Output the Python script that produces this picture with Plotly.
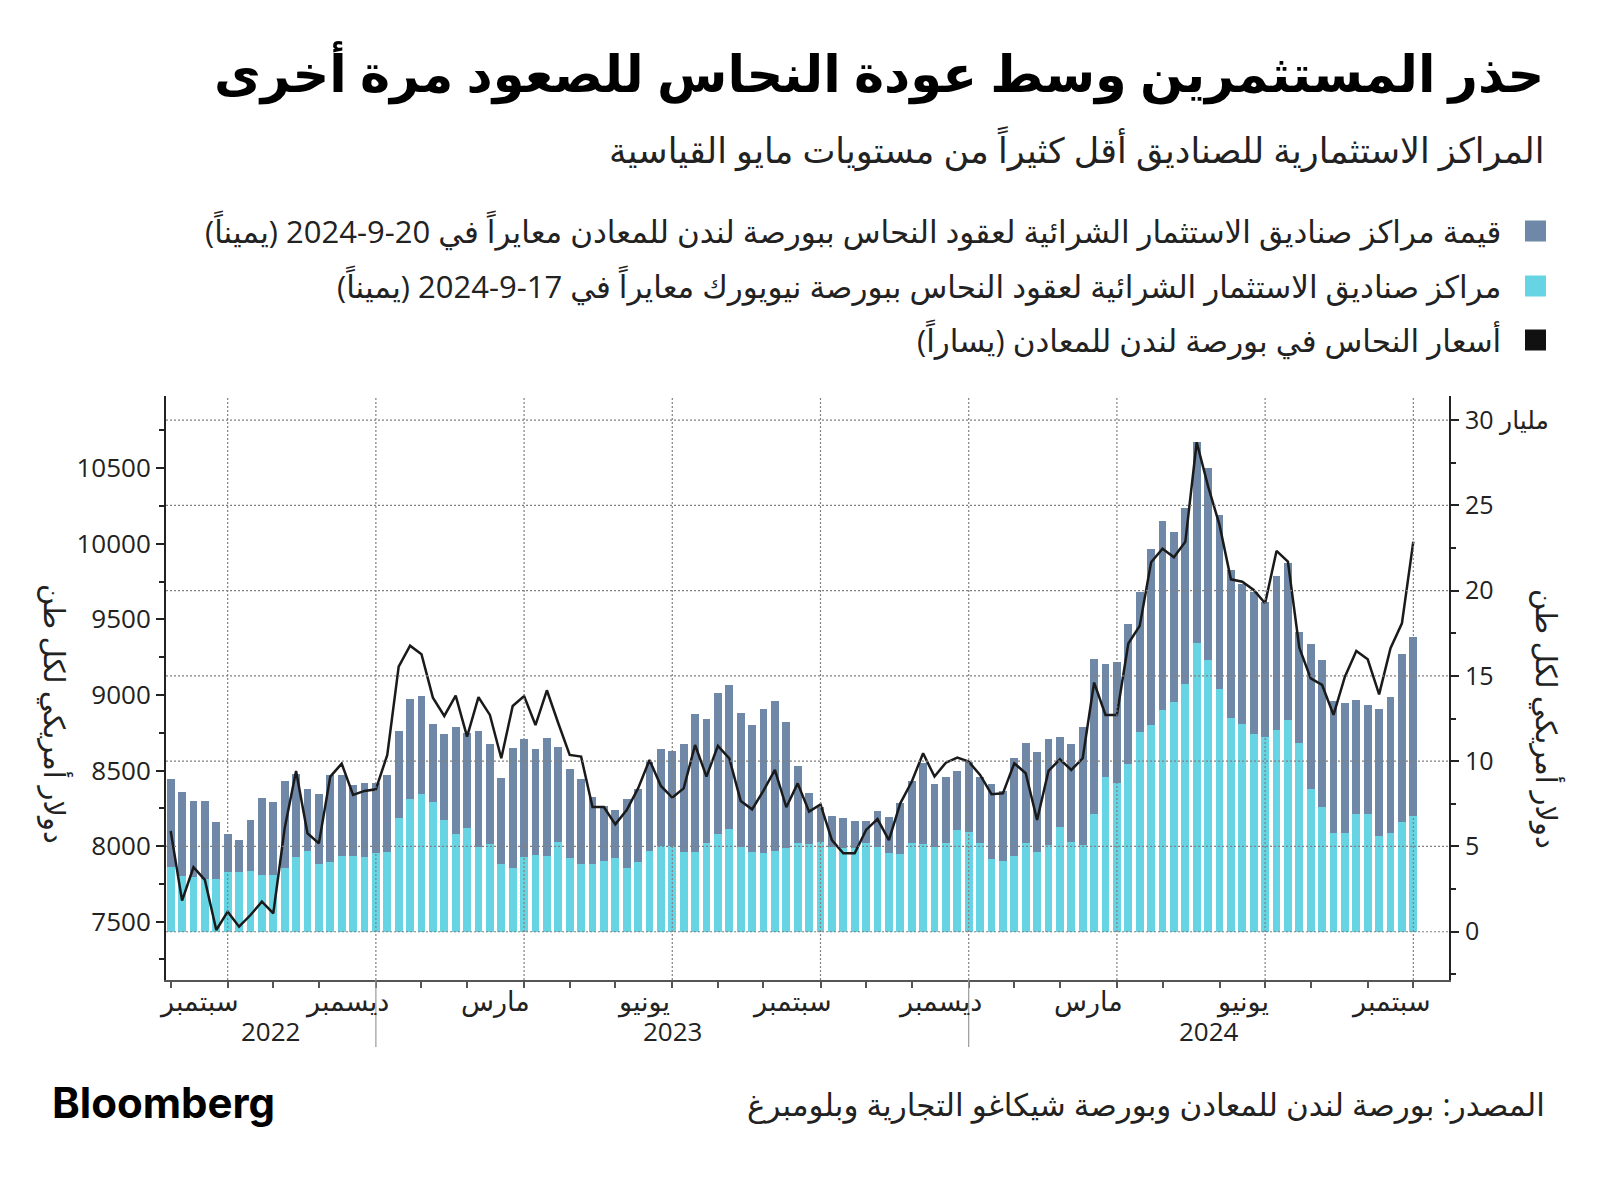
import plotly.graph_objects as go
import pandas as pd

# ---------------- data ----------------
weeks = pd.date_range("2022-08-26", periods=110, freq="7D").strftime("%Y-%m-%d").tolist()

# value of LME fund long positions (USD bn, right axis)
lme_value = [8.95, 8.19, 7.68, 7.68, 6.41, 5.71, 5.39, 6.53, 7.82, 7.58,
             8.81, 9.24, 8.34, 8.05, 9.19, 9.19, 8.58, 8.70, 8.70, 9.19,
             11.78, 13.66, 13.82, 12.16, 11.57, 12.02, 11.67, 11.78, 10.98, 9.03,
             10.75, 11.28, 10.69, 11.35, 10.83, 9.56, 8.95, 7.90, 7.39, 7.15,
             7.76, 8.34, 9.97, 10.69, 10.59, 10.98, 12.76, 12.47, 13.97, 14.46,
             12.84, 12.10, 13.05, 13.52, 12.31, 9.71, 8.11, 7.31, 6.78, 6.64,
             6.49, 6.49, 7.07, 6.70, 7.52, 8.83, 9.87, 8.66, 9.05, 9.42,
             9.97, 9.09, 8.64, 8.27, 10.16, 11.04, 10.51, 11.30, 11.43, 10.98,
             12.02, 15.99, 15.71, 15.79, 18.04, 19.91, 22.45, 24.10, 23.41, 24.86,
             28.69, 27.16, 24.41, 21.18, 20.36, 19.93, 19.31, 20.85, 21.61, 17.59,
             16.85, 15.93, 13.52, 13.39, 13.58, 13.29, 13.05, 13.74, 16.30, 17.28]

# value of Comex fund long positions (USD bn, right axis)
comex_value = [3.79, 3.26, 3.22, 3.09, 3.09, 3.48, 3.48, 3.56, 3.32, 3.32,
               3.73, 4.36, 4.73, 3.95, 4.08, 4.44, 4.46, 4.38, 4.59, 4.65,
               6.68, 7.76, 8.05, 7.58, 6.55, 5.73, 6.10, 4.98, 5.12, 3.99,
               3.71, 4.38, 4.49, 4.46, 5.26, 4.32, 3.99, 3.95, 4.16, 4.32,
               3.73, 4.10, 4.75, 5.04, 5.04, 4.67, 4.69, 5.22, 5.73, 6.02,
               4.98, 4.69, 4.63, 4.75, 4.91, 5.20, 5.14, 5.26, 4.98, 4.89,
               4.89, 5.22, 4.98, 4.63, 4.53, 5.22, 5.14, 4.94, 5.22, 5.96,
               5.82, 5.22, 4.24, 4.16, 4.46, 5.22, 4.69, 5.06, 6.16, 5.28,
               5.06, 6.88, 9.09, 8.74, 9.85, 11.73, 12.12, 13.02, 13.47, 14.50,
               16.90, 15.93, 14.21, 12.55, 12.19, 11.57, 11.43, 11.80, 12.43, 11.04,
               8.34, 7.31, 5.80, 5.80, 6.88, 6.88, 5.61, 5.80, 6.41, 6.78]

# LME copper price (USD / t, left axis)
lme_price = [8100, 7639, 7860, 7776, 7445, 7566, 7467, 7544, 7632, 7555,
             8118, 8497, 8085, 8018, 8460, 8546, 8338, 8365, 8376, 8603,
             9188, 9326, 9269, 8982, 8861, 8996, 8724, 8985, 8868, 8581,
             8927, 8993, 8801, 9031, 8813, 8603, 8592, 8259, 8259, 8144,
             8239, 8382, 8570, 8398, 8321, 8382, 8669, 8460, 8663, 8581,
             8299, 8243, 8367, 8504, 8257, 8415, 8228, 8276, 8040, 7952,
             7952, 8107, 8179, 8040, 8283, 8426, 8614, 8460, 8552, 8585,
             8559, 8471, 8343, 8349, 8548, 8482, 8173, 8497, 8574, 8504,
             8581, 9082, 8868, 8868, 9340, 9457, 9878, 9968, 9911, 10013,
             10672, 10380, 10125, 9765, 9749, 9695, 9607, 9953, 9882, 9313,
             9110, 9066, 8868, 9121, 9291, 9236, 9004, 9309, 9474, 10015]

month_labels = {9: "سبتمبر", 12: "ديسمبر", 3: "مارس", 6: "يونيو"}
left_tickvals = [7500, 8000, 8500, 9000, 9500, 10000, 10500]
left_minor = [7250, 7750, 8250, 8750, 9250, 9750, 10250, 10750]
right_tickvals = [0, 5, 10, 15, 20, 25, 30]
right_ticktext = ["0", "5", "10", "15", "20", "25", "30 مليار"]
right_minor = [-2.5, 2.5, 7.5, 12.5, 17.5, 22.5, 27.5]

RLM = "\u200f"
title = "حذر المستثمرين وسط عودة النحاس للصعود مرة أخرى"
subtitle = "المراكز الاستثمارية للصناديق أقل كثيراً من مستويات مايو القياسية"
legend_items = [
    ("قيمة مراكز صناديق الاستثمار الشرائية لعقود النحاس ببورصة لندن للمعادن معايراً في 20-9-2024 (يميناً)", "#6F88A8"),
    ("مراكز صناديق الاستثمار الشرائية لعقود النحاس ببورصة نيويورك معايراً في 17-9-2024 (يميناً)", "#67D4E3"),
    ("أسعار النحاس في بورصة لندن للمعادن (يساراً)", "#111111"),
]
axis_title = "دولار أمريكي لكل طن"
source = "المصدر: بورصة لندن للمعادن وبورصة شيكاغو التجارية وبلومبرغ"

# ---------------- layout helpers ----------------
OFF = 8                      # page body margin of the browser
W, H = 1600 - 2 * OFF, 1179 - 2 * OFF
L, R, T, B = 166, 1449, 396, 980   # plot area in page pixels
def px(p):
    return (p - L) / (R - L)
def py(q):
    return (B - q) / (B - T)

DARK = "#6F88A8"
CYAN = "#67D4E3"
FONT = "Open Sans, DejaVu Sans, sans-serif"

N = len(weeks)
dts = pd.to_datetime(weeks)
tick_idx = [i for i in range(N) if i == N - 1 or dts[i].month != dts[i + 1].month]
grid_idx = [i for i in tick_idx if dts[i].month in (3, 6, 9, 12)]
year_sep = [i for i in tick_idx if dts[i].month == 12]
xmin, xmax = -0.41, 112.13

fig = go.Figure()
fig.add_trace(go.Bar(x=weeks, y=lme_value, marker_color=DARK, width=0.68,
                     marker_line_width=0, yaxis="y", name="LME"))
fig.add_trace(go.Bar(x=weeks, y=comex_value, marker_color=CYAN, width=0.68,
                     marker_line_width=0, yaxis="y", name="Comex"))
fig.add_trace(go.Scatter(x=weeks, y=lme_price, mode="lines", yaxis="y2",
                         line=dict(color="#1a1a1a", width=2.5), name="Price"))

shapes = []
for v in right_tickvals:
    shapes.append(dict(type="line", xref="x domain", yref="y", x0=0, x1=1, y0=v, y1=v,
                       line=dict(color="#808080", width=1.2, dash="2px,2px"), layer="above"))
for i in grid_idx:
    shapes.append(dict(type="line", xref="x", yref="y domain", x0=i, x1=i, y0=0, y1=1,
                       line=dict(color="#808080", width=1.2, dash="2px,2px"), layer="above"))
for i in year_sep:
    shapes.append(dict(type="line", xref="x", yref="paper", x0=i, x1=i, y0=0, y1=py(1047),
                       line=dict(color="#9a9a9a", width=1.2), layer="above"))
leg_y = [231, 286, 340]
for (txt, col), yy in zip(legend_items, leg_y):
    shapes.append(dict(type="rect", xref="paper", yref="paper",
                       x0=px(1525), x1=px(1546), y0=py(yy + 10.5), y1=py(yy - 10.5),
                       fillcolor=col, line=dict(width=0)))

ann = []
ann.append(dict(text="<b>" + title + "</b>", x=px(1546), y=py(72), xref="paper", yref="paper",
                xanchor="right", yanchor="middle", showarrow=False,
                font=dict(size=51, color="#000000", family=FONT)))
ann.append(dict(text=subtitle, x=px(1547), y=py(149), xref="paper", yref="paper",
                xanchor="right", yanchor="middle", showarrow=False,
                font=dict(size=35, color="#222222", family=FONT)))
for (txt, col), yy in zip(legend_items, leg_y):
    ann.append(dict(text=RLM + txt + RLM, x=px(1503), y=py(yy), xref="paper", yref="paper",
                    xanchor="right", yanchor="middle", showarrow=False,
                    font=dict(size=31, color="#222222", family=FONT)))
ann.append(dict(text=axis_title, x=px(56), y=py(714), xref="paper", yref="paper",
                textangle=90, xanchor="center", yanchor="middle", showarrow=False,
                font=dict(size=29, color="#222222", family=FONT)))
ann.append(dict(text=axis_title, x=px(1548), y=py(719), xref="paper", yref="paper",
                textangle=90, xanchor="center", yanchor="middle", showarrow=False,
                font=dict(size=29, color="#222222", family=FONT)))
for k in range(1, len(tick_idx)):
    m = dts[tick_idx[k]].month
    if m in month_labels:
        xc = (tick_idx[k - 1] + tick_idx[k]) / 2
        ann.append(dict(text=month_labels[m], x=xc, y=py(1000), xref="x", yref="paper",
                        xanchor="center", yanchor="middle", showarrow=False,
                        font=dict(size=27, color="#222222", family=FONT)))
bounds = [xmin] + year_sep + [xmax]
years = sorted(set(d.year for d in dts))
for k, yr in enumerate(years):
    xc = (bounds[k] + bounds[k + 1]) / 2
    ann.append(dict(text=str(yr), x=xc, y=py(1031), xref="x", yref="paper",
                    xanchor="center", yanchor="middle", showarrow=False,
                    font=dict(size=26, color="#222222", family=FONT)))
ann.append(dict(text="<b>Bloomberg</b>", x=px(50), y=py(1102), xref="paper", yref="paper",
                xanchor="left", yanchor="middle", showarrow=False,
                font=dict(size=42, color="#000000", family="Inter, Roboto, sans-serif")))
ann.append(dict(text=source, x=px(1547), y=py(1104), xref="paper", yref="paper",
                xanchor="right", yanchor="middle", showarrow=False,
                font=dict(size=31, color="#222222", family=FONT)))

fig.update_layout(
    width=W, height=H,
    margin=dict(l=L - OFF, r=W - (R - OFF), t=T - OFF, b=H - (B - OFF)),
    paper_bgcolor="white", plot_bgcolor="white",
    barmode="overlay", bargap=0, showlegend=False,
    font=dict(family=FONT, size=24, color="#222222"),
    xaxis=dict(type="category", range=[xmin, xmax], tickmode="array",
               tickvals=[weeks[i] for i in tick_idx], ticktext=["" for _ in tick_idx],
               ticks="outside", ticklen=6, tickwidth=1.5, tickcolor="#555555",
               showline=True, linecolor="#555555", linewidth=1.5,
               showgrid=False, zeroline=False, fixedrange=True),
    yaxis=dict(side="right", range=[-2.83, 31.41], tickmode="array",
               tickvals=right_tickvals, ticktext=right_ticktext,
               ticks="outside", ticklen=8, tickwidth=2, tickcolor="#222222",
               minor=dict(tickmode="array", tickvals=right_minor, ticks="outside",
                          ticklen=5, tickwidth=1.5, tickcolor="#222222", showgrid=False),
               showline=True, linecolor="#222222", linewidth=2,
               showgrid=False, zeroline=False, ticklabelstandoff=1,
               tickfont=dict(size=25, color="#222222", family=FONT)),
    yaxis2=dict(side="left", overlaying="y", range=[7114, 10978], tickmode="array",
                tickvals=left_tickvals, ticktext=[str(v) for v in left_tickvals],
                ticks="outside", ticklen=8, tickwidth=2, tickcolor="#222222",
                minor=dict(tickmode="array", tickvals=left_minor, ticks="outside",
                           ticklen=5, tickwidth=1.5, tickcolor="#222222", showgrid=False),
                showline=True, linecolor="#222222", linewidth=2,
                showgrid=False, zeroline=False, ticklabelstandoff=0,
                tickfont=dict(size=26, color="#222222", family=FONT)),
    shapes=shapes, annotations=ann,
)

fig.write_html("out.html")
